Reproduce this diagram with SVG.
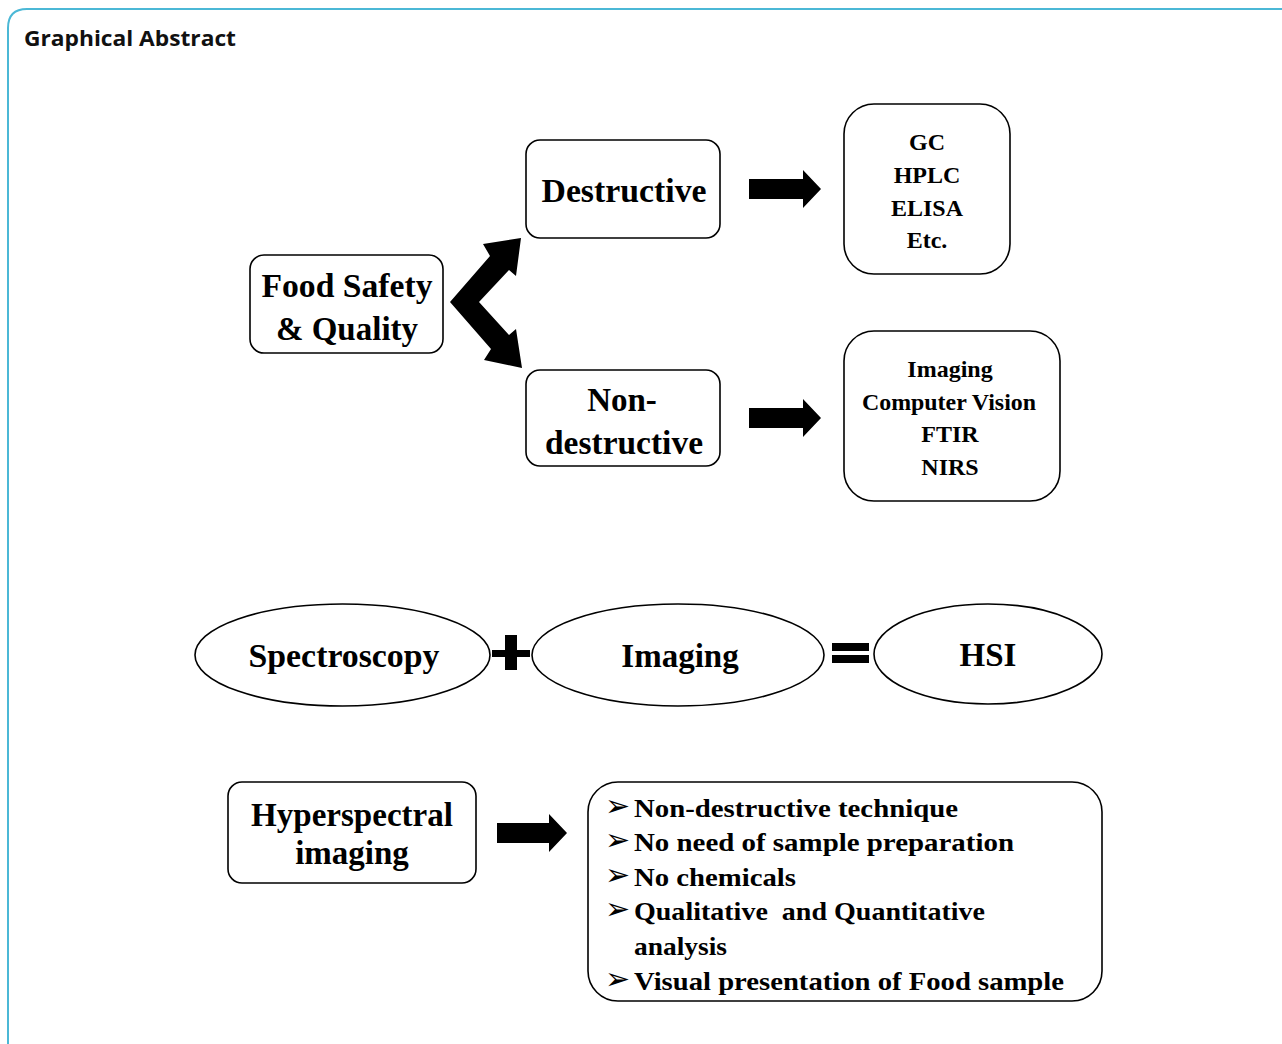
<svg xmlns="http://www.w3.org/2000/svg" width="1282" height="1044" viewBox="0 0 1282 1044">
<style>
.box{fill:#fff;stroke:#000;stroke-width:1.6}
.t{font-family:"Liberation Serif","Times New Roman",serif;font-weight:bold;fill:#000;text-anchor:middle}
.big{font-size:33px}
.mid{font-size:24px}
.lst{font-family:"Liberation Serif","Times New Roman",serif;font-weight:bold;font-size:26px;fill:#000}
.bul{font-family:"DejaVu Sans",sans-serif;font-size:30px;fill:#000}
.sh{fill:#000}
</style>
<rect width="1282" height="1044" fill="#fff"/>
<path d="M8 1044 L8 28 Q8 9 27 9 L1282 9" fill="none" stroke="#4bb8d6" stroke-width="2"/>
<text x="24" y="46" font-family="'Open Sans','Noto Sans',sans-serif" font-weight="bold" font-size="22" textLength="212" lengthAdjust="spacingAndGlyphs" fill="#111">Graphical Abstract</text>

<g id="food">
<rect class="box" x="250" y="255" width="193" height="98" rx="14"/>
<text class="t big" x="347" y="297" textLength="171" lengthAdjust="spacingAndGlyphs">Food Safety</text>
<text class="t big" x="347" y="340">&amp; Quality</text>
</g>
<g id="destructive">
<rect class="box" x="526" y="140" width="194" height="98" rx="14"/>
<text class="t big" x="624" y="202" textLength="165" lengthAdjust="spacingAndGlyphs">Destructive</text>
</g>
<g id="nondestructive">
<rect class="box" x="526" y="370" width="194" height="96" rx="14"/>
<text class="t big" x="622" y="411">Non-</text>
<text class="t big" x="624" y="454" textLength="158" lengthAdjust="spacingAndGlyphs">destructive</text>
</g>
<g id="methods">
<rect class="box" x="844" y="104" width="166" height="170" rx="30"/>
<text class="t mid" x="927" y="150">GC</text>
<text class="t mid" x="927" y="183">HPLC</text>
<text class="t mid" x="927" y="216">ELISA</text>
<text class="t mid" x="927" y="248">Etc.</text>
</g>
<g id="ndmethods">
<rect class="box" x="844" y="331" width="216" height="170" rx="30"/>
<text class="t mid" x="950" y="377">Imaging</text>
<text class="t mid" x="949" y="410" textLength="174" lengthAdjust="spacingAndGlyphs">Computer Vision</text>
<text class="t mid" x="950" y="442">FTIR</text>
<text class="t mid" x="950" y="475">NIRS</text>
</g>
<g id="spectroscopy">
<ellipse class="box" cx="342.5" cy="655" rx="147.5" ry="51"/>
<text class="t big" x="344" y="667" textLength="191" lengthAdjust="spacingAndGlyphs">Spectroscopy</text>
</g>
<g id="imaging">
<ellipse class="box" cx="678" cy="655" rx="146" ry="51"/>
<text class="t big" x="680" y="667">Imaging</text>
</g>
<g id="hsi">
<ellipse class="box" cx="988" cy="654" rx="114" ry="50"/>
<text class="t big" x="988" y="666">HSI</text>
</g>
<g id="hyperspectral">
<rect class="box" x="228" y="782" width="248" height="101" rx="14"/>
<text class="t big" x="352" y="826" textLength="202" lengthAdjust="spacingAndGlyphs">Hyperspectral</text>
<text class="t big" x="352" y="864">imaging</text>
</g>
<g id="advantages">
<rect class="box" x="588" y="782" width="514" height="219" rx="30"/>
<text class="bul" x="605" y="816">➢</text>
<text class="bul" x="605" y="850">➢</text>
<text class="bul" x="605" y="885">➢</text>
<text class="bul" x="605" y="919">➢</text>
<text class="bul" x="605" y="989">➢</text>
<text class="lst" x="634" y="817" textLength="324" lengthAdjust="spacingAndGlyphs">Non-destructive technique</text>
<text class="lst" x="634" y="851" textLength="380" lengthAdjust="spacingAndGlyphs">No need of sample preparation</text>
<text class="lst" x="634" y="886" textLength="162" lengthAdjust="spacingAndGlyphs">No chemicals</text>
<text class="lst" x="634" y="920" textLength="351" lengthAdjust="spacingAndGlyphs" xml:space="preserve">Qualitative  and Quantitative</text>
<text class="lst" x="634" y="955" textLength="93" lengthAdjust="spacingAndGlyphs">analysis</text>
<text class="lst" x="634" y="990" textLength="430" lengthAdjust="spacingAndGlyphs">Visual presentation of Food sample</text>
</g>
<g id="connectors">
<polygon class="sh" points="450,302 490,256 483,244 521,238 516,276 509,270 479,302 509,335 516,329 522,368 484,360 491,349"/>
<polygon class="sh" points="749,179 803,179 803,170 821,189 803,208 803,199 749,199"/>
<polygon class="sh" points="749,408 803,408 803,399 821,418 803,437 803,428 749,428"/>
<polygon class="sh" points="497,823 549,823 549,814 567,833 549,852 549,843 497,843"/>
<polygon class="sh" points="505,635 517,635 517,650 530,650 530,657 517,657 517,670 505,670 505,657 492,657 492,650 505,650"/>
<rect class="sh" x="832" y="643" width="37" height="8"/>
<rect class="sh" x="832" y="655" width="37" height="8"/>
</g>
</svg>
